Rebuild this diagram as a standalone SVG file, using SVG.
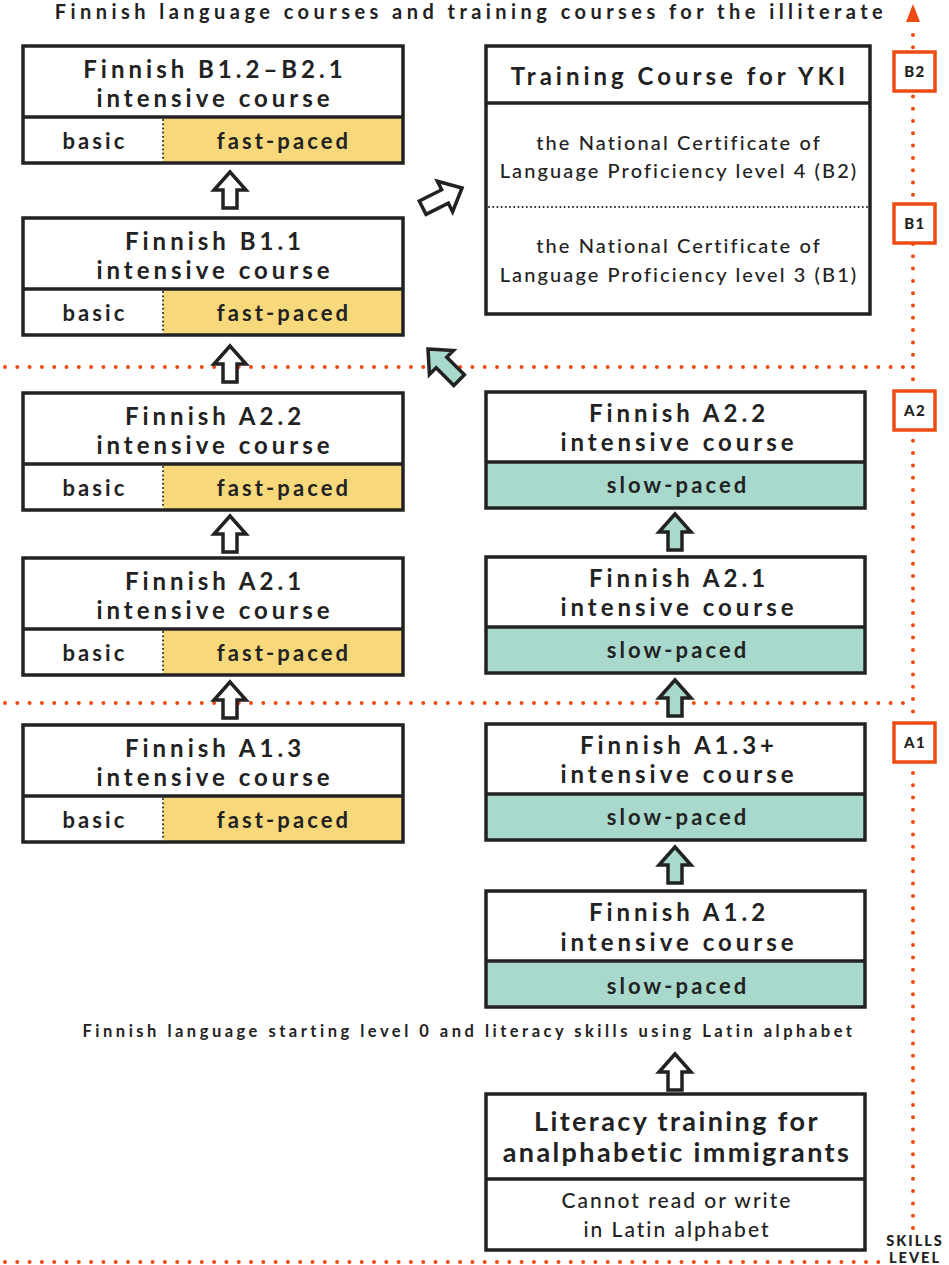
<svg xmlns="http://www.w3.org/2000/svg" xmlns:xlink="http://www.w3.org/1999/xlink" width="949" height="1265" viewBox="0 0 949 1265">
<style>
.bx{fill:none;stroke:#222;stroke-width:3.5}
.wb{fill:#fff;stroke:#222;stroke-width:3.5}
.dv{stroke:#222;stroke-width:3.5}
.dd{stroke:#222;stroke-width:2;stroke-dasharray:0 4.2;stroke-linecap:round}
.yl{fill:#F7D87A}
.tl{fill:#A9D9CD}
.od{stroke:#EE4B12;stroke-width:4;stroke-dasharray:0 12.3;stroke-linecap:round;fill:none}
.lb{fill:#fff;stroke:#EE4B12;stroke-width:3.5}
.t{font-family:Lato,"Liberation Sans",sans-serif;fill:#222;text-anchor:middle}
.h{font-size:24px;font-weight:700;letter-spacing:4px}
.s{font-size:22px;font-weight:700;letter-spacing:3.1px}
.r{font-size:20px;font-weight:500;letter-spacing:2.1px}
.ax{font-size:15px;font-weight:900;letter-spacing:1.5px}
.aw{fill:#fff;stroke:#222;stroke-width:3.5;stroke-linejoin:miter}
.at{fill:#A9D9CD;stroke:#222;stroke-width:3.5;stroke-linejoin:miter}
</style>
<defs>
<path id="up" d="M0,0 L16,18 L7,18 L7,36 L-7,36 L-7,18 L-16,18 Z"/>
<path id="dg" d="M0,0 L17,19 L7.5,19 L7.5,44 L-7.5,44 L-7.5,19 L-17,19 Z"/>
</defs>

<g id="axis">
<line class="od" x1="5" y1="367" x2="905" y2="367"/>
<line class="od" x1="5" y1="703" x2="905" y2="703"/>
<line class="od" x1="5" y1="1262" x2="880" y2="1262"/>
<line class="od" x1="913" y1="1228" x2="913" y2="25"/>
<polygon points="913,4 920,22 906,22" fill="#EE4B12"/>
<rect class="lb" x="894" y="52" width="41" height="39"/>
<text class="t ax" x="915" y="77">B2</text>
<rect class="lb" x="894" y="204" width="41" height="39"/>
<text class="t ax" x="915" y="229">B1</text>
<rect class="lb" x="894" y="391" width="41" height="39"/>
<text class="t ax" x="915" y="416">A2</text>
<rect class="lb" x="894" y="723" width="41" height="39"/>
<text class="t ax" x="915" y="748">A1</text>
<text class="t" x="915" y="1246" style="font-size:14.5px;font-weight:900;letter-spacing:2px">SKILLS</text>
<text class="t" x="915" y="1263" style="font-size:14.5px;font-weight:900;letter-spacing:2px">LEVEL</text>
</g>

<text class="t" x="471" y="19" style="font-size:20px;font-weight:700;letter-spacing:4.45px">Finnish language courses and training courses for the illiterate</text>

<g id="b12b21">
<rect fill="#fff" x="23" y="46" width="380" height="117"/>
<rect class="yl" x="163" y="117" width="240" height="46"/>
<rect class="bx" x="23" y="46" width="380" height="117"/>
<line class="dv" x1="23" y1="117" x2="403" y2="117"/>
<line class="dd" x1="163" y1="120" x2="163" y2="161"/>
<text class="t h" x="215" y="78">Finnish B1.2–B2.1</text>
<text class="t h" x="215" y="107">intensive course</text>
<text class="t s" x="95" y="149">basic</text>
<text class="t s" x="284" y="149">fast-paced</text>
</g>

<g id="b11">
<rect fill="#fff" x="23" y="218" width="380" height="117"/>
<rect class="yl" x="163" y="289" width="240" height="46"/>
<rect class="bx" x="23" y="218" width="380" height="117"/>
<line class="dv" x1="23" y1="289" x2="403" y2="289"/>
<line class="dd" x1="163" y1="292" x2="163" y2="333"/>
<text class="t h" x="215" y="250">Finnish B1.1</text>
<text class="t h" x="215" y="279">intensive course</text>
<text class="t s" x="95" y="321">basic</text>
<text class="t s" x="284" y="321">fast-paced</text>
</g>

<g id="a22l">
<rect fill="#fff" x="23" y="393" width="380" height="117"/>
<rect class="yl" x="163" y="464" width="240" height="46"/>
<rect class="bx" x="23" y="393" width="380" height="117"/>
<line class="dv" x1="23" y1="464" x2="403" y2="464"/>
<line class="dd" x1="163" y1="467" x2="163" y2="508"/>
<text class="t h" x="215" y="425">Finnish A2.2</text>
<text class="t h" x="215" y="454">intensive course</text>
<text class="t s" x="95" y="496">basic</text>
<text class="t s" x="284" y="496">fast-paced</text>
</g>

<g id="a21l">
<rect fill="#fff" x="23" y="558" width="380" height="117"/>
<rect class="yl" x="163" y="629" width="240" height="46"/>
<rect class="bx" x="23" y="558" width="380" height="117"/>
<line class="dv" x1="23" y1="629" x2="403" y2="629"/>
<line class="dd" x1="163" y1="632" x2="163" y2="673"/>
<text class="t h" x="215" y="590">Finnish A2.1</text>
<text class="t h" x="215" y="619">intensive course</text>
<text class="t s" x="95" y="661">basic</text>
<text class="t s" x="284" y="661">fast-paced</text>
</g>

<g id="a13l">
<rect fill="#fff" x="23" y="725" width="380" height="117"/>
<rect class="yl" x="163" y="796" width="240" height="46"/>
<rect class="bx" x="23" y="725" width="380" height="117"/>
<line class="dv" x1="23" y1="796" x2="403" y2="796"/>
<line class="dd" x1="163" y1="799" x2="163" y2="840"/>
<text class="t h" x="215" y="757">Finnish A1.3</text>
<text class="t h" x="215" y="786">intensive course</text>
<text class="t s" x="95" y="828">basic</text>
<text class="t s" x="284" y="828">fast-paced</text>
</g>

<g id="yki">
<rect class="wb" x="486" y="46" width="384" height="268"/>
<line class="dv" x1="486" y1="103" x2="870" y2="103"/>
<line class="dd" x1="489" y1="207" x2="868" y2="207"/>
<text class="t h" x="680" y="85">Training Course for YKI</text>
<text class="t r" x="679" y="150">the National Certificate of</text>
<text class="t r" x="679" y="178">Language Proficiency level 4 (B2)</text>
<text class="t r" x="679" y="253">the National Certificate of</text>
<text class="t r" x="679" y="282">Language Proficiency level 3 (B1)</text>
</g>

<g id="a22r">
<rect fill="#fff" x="486" y="392" width="379" height="116"/>
<rect class="tl" x="486" y="462" width="379" height="46"/>
<rect class="bx" x="486" y="392" width="379" height="116"/>
<line class="dv" x1="486" y1="462" x2="865" y2="462"/>
<text class="t h" x="679" y="422">Finnish A2.2</text>
<text class="t h" x="679" y="451">intensive course</text>
<text class="t s" x="678" y="493">slow-paced</text>
</g>

<g id="a21r">
<rect fill="#fff" x="486" y="557" width="379" height="116"/>
<rect class="tl" x="486" y="627" width="379" height="46"/>
<rect class="bx" x="486" y="557" width="379" height="116"/>
<line class="dv" x1="486" y1="627" x2="865" y2="627"/>
<text class="t h" x="679" y="587">Finnish A2.1</text>
<text class="t h" x="679" y="616">intensive course</text>
<text class="t s" x="678" y="658">slow-paced</text>
</g>

<g id="a13r">
<rect fill="#fff" x="486" y="724" width="379" height="116"/>
<rect class="tl" x="486" y="794" width="379" height="46"/>
<rect class="bx" x="486" y="724" width="379" height="116"/>
<line class="dv" x1="486" y1="794" x2="865" y2="794"/>
<text class="t h" x="679" y="754">Finnish A1.3+</text>
<text class="t h" x="679" y="783">intensive course</text>
<text class="t s" x="678" y="825">slow-paced</text>
</g>

<g id="a12r">
<rect fill="#fff" x="486" y="891" width="379" height="116"/>
<rect class="tl" x="486" y="961" width="379" height="46"/>
<rect class="bx" x="486" y="891" width="379" height="116"/>
<line class="dv" x1="486" y1="961" x2="865" y2="961"/>
<text class="t h" x="679" y="921">Finnish A1.2</text>
<text class="t h" x="679" y="951">intensive course</text>
<text class="t s" x="678" y="994">slow-paced</text>
</g>

<text class="t" x="469" y="1037" style="font-size:16.5px;font-weight:700;letter-spacing:3.5px">Finnish language starting level 0 and literacy skills using Latin alphabet</text>

<g id="literacy">
<rect class="wb" x="486" y="1094" width="379" height="156"/>
<line class="dv" x1="486" y1="1179" x2="865" y2="1179"/>
<text class="t" x="677" y="1131" style="font-size:27px;font-weight:700;letter-spacing:2.4px">Literacy training for</text>
<text class="t" x="677" y="1162" style="font-size:27px;font-weight:700;letter-spacing:2.4px">analphabetic immigrants</text>
<text class="t" x="677" y="1208" style="font-size:21px;font-weight:500;letter-spacing:2px">Cannot read or write</text>
<text class="t" x="677" y="1237" style="font-size:21px;font-weight:500;letter-spacing:2px">in Latin alphabet</text>
</g>

<g id="connectors">
<use href="#up" class="aw" x="230" y="172"/>
<use href="#up" class="aw" x="230" y="346"/>
<use href="#up" class="aw" x="230" y="516"/>
<use href="#up" class="aw" x="230" y="682"/>
<use href="#up" class="at" x="675" y="514"/>
<use href="#up" class="at" x="675" y="680"/>
<use href="#up" class="at" x="675" y="847"/>
<use href="#up" class="aw" x="675" y="1054"/>
<use href="#dg" class="aw" transform="translate(462,188) rotate(63.4)"/>
<use href="#dg" class="at" transform="translate(428,349) rotate(-45)"/>
</g>
</svg>
